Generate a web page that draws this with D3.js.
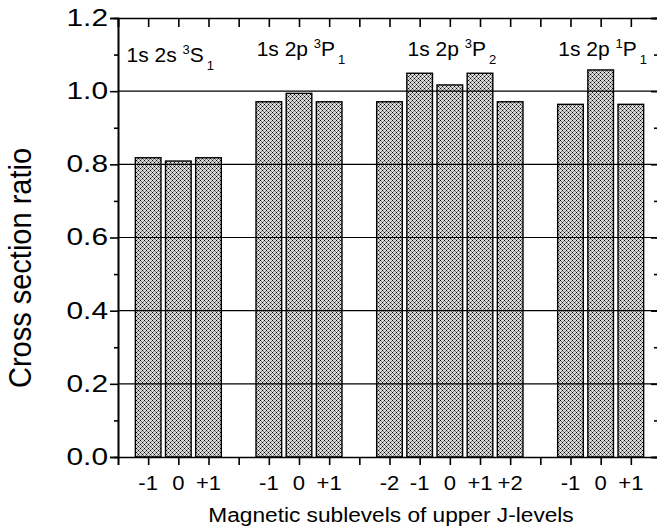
<!DOCTYPE html>
<html>
<head>
<meta charset="utf-8">
<script src="https://cdn.jsdelivr.net/npm/d3@7"></script>
<style>
  body { margin: 0; background: #fff; }
  svg text { font-family: "Liberation Sans", Arial, Helvetica, sans-serif; fill: #000; }
</style>
</head>
<body>
<div id="chart"></div>
<script>
// bar positions on the x axis (integer slots), their values and labels
var positions = [1, 2, 3, 5, 6, 7, 9, 10, 11, 12, 13, 15, 16, 17];
var ratios = [0.818, 0.809, 0.818, 0.971, 0.994, 0.971, 0.971, 1.049, 1.017, 1.049, 0.971, 0.964, 1.058, 0.964];
var tickLabels = ["-1", "0", "+1", "-1", "0", "+1", "-2", "-1", "0", "+1", "+2", "-1", "0", "+1"];

// level names, centred over their group of bars
var levelCenters = [2, 6, 11, 16];
var levelBase = ["1s 2s ", "1s 2p ", "1s 2p ", "1s 2p "];
var levelSup = ["3", "3", "3", "1"];
var levelTerm = ["S", "P", "P", "P"];
var levelSub = ["1", "1", "2", "1"];

var yTicks = [0, 0.2, 0.4, 0.6, 0.8, 1.0, 1.2];
var yMinor = [0.1, 0.3, 0.5, 0.7, 0.9, 1.1];
var gridValues = [0.2, 0.4, 0.6, 0.8, 1.0];

var W = 657, H = 529;
var margin = {top: 18, right: -4, bottom: 72, left: 118};
var width = W - margin.left - margin.right;
var height = H - margin.top - margin.bottom;

// y tick numbers in the scan are wider than normal lettering
var sxTick = 1.3;

var svg = d3.select('#chart').append('svg')
    .attr('width', W)
    .attr('height', H);

// crosshatch fill for the bars
var defs = svg.append('defs');
var pat = defs.append('pattern')
    .attr('id', 'hatch')
    .attr('patternUnits', 'userSpaceOnUse')
    .attr('width', 4)
    .attr('height', 4);
pat.append('rect').attr('width', 4).attr('height', 4).attr('fill', '#dadada');
pat.append('rect').attr('x', 0).attr('y', 0).attr('width', 1).attr('height', 1).attr('fill', '#000');
pat.append('rect').attr('x', 2).attr('y', 2).attr('width', 1).attr('height', 1).attr('fill', '#000');
[[1, 1], [3, 3], [1, 3], [3, 1]].forEach(function(p) {
    pat.append('rect').attr('x', p[0]).attr('y', p[1]).attr('width', 1).attr('height', 1).attr('fill', '#7a7a7a');
});

var g = svg.append('g')
    .attr('transform', `translate(${margin.left}, ${margin.top})`);

var xScale = d3.scaleLinear().domain([0, 18]).range([0, width]);
var yScale = d3.scaleLinear().domain([0, 1.2]).range([height, 0]);
var barW = xScale(0.85) - xScale(0);

// bars
g.selectAll('.bar')
    .data(positions)
    .enter()
    .append('rect')
    .attr('class', 'bar')
    .attr('x', (d, i) => xScale(d) - barW / 2)
    .attr('y', (d, i) => yScale(ratios[i]))
    .attr('width', barW)
    .attr('height', (d, i) => height - yScale(ratios[i]))
    .attr('fill', 'url(#hatch)')
    .attr('stroke', '#000')
    .attr('stroke-width', 1.4);

// horizontal grid lines drawn over the bars
g.selectAll('.grid')
    .data(gridValues)
    .enter()
    .append('line')
    .attr('x1', 0).attr('x2', width)
    .attr('y1', d => yScale(d)).attr('y2', d => yScale(d))
    .attr('stroke', '#000')
    .attr('stroke-width', 1.2);

// axes
var intTicks = d3.range(0, 19);
var xBottom = d3.axisBottom(xScale).tickValues(intTicks).tickSize(8).tickFormat('');
var xTop = d3.axisTop(xScale).tickValues(intTicks).tickSize(-9).tickFormat('');
var yLeft = d3.axisLeft(yScale).tickValues(yTicks).tickSize(8).tickFormat(d3.format('.1f'));
var yLeftMinor = d3.axisLeft(yScale).tickValues(yMinor).tickSize(4).tickFormat('');
var yRight = d3.axisRight(yScale).tickValues(yTicks).tickSize(-10).tickFormat('');
var yRightMinor = d3.axisRight(yScale).tickValues(yMinor).tickSize(-7).tickFormat('');

function styleAxis(sel) {
    sel.selectAll('path').attr('stroke', '#000').attr('stroke-width', 1.6);
    sel.selectAll('line').attr('stroke', '#000').attr('stroke-width', 1.6);
}

g.append('g').attr('transform', `translate(0,${height})`).call(xBottom).call(styleAxis);
g.append('g').call(xTop).call(styleAxis);
g.append('g').call(yLeftMinor).call(styleAxis);
g.append('g').attr('class', 'y axis').call(yLeft).call(styleAxis)
    .selectAll('text')
    .attr('font-size', 23)
    .attr('font-family', '"Liberation Sans", Arial, sans-serif')
    .attr('fill', '#000')
    .attr('x', -10 / sxTick)
    .attr('transform', `scale(${sxTick},1)`);
g.append('g').attr('transform', `translate(${width},0)`).call(yRight).call(styleAxis);
g.append('g').attr('transform', `translate(${width},0)`).call(yRightMinor).call(styleAxis);

// sublevel labels under the bars
g.selectAll('.mlabel')
    .data(positions)
    .enter()
    .append('text')
    .attr('class', 'mlabel')
    .attr('transform', d => `translate(${xScale(d)},${height + 33}) scale(1.05,1)`)
    .attr('text-anchor', 'middle')
    .attr('font-size', 21)
    .text((d, i) => tickLabels[i]);

// level names with super/subscripts
var lev = g.selectAll('.level')
    .data(levelCenters)
    .enter()
    .append('text')
    .attr('class', 'level')
    .attr('x', (d, i) => xScale(d) + (i === 0 ? -8 : 2))
    .attr('y', (d, i) => i === 0 ? 44 : 38)
    .attr('text-anchor', 'middle')
    .attr('font-size', 21);
lev.append('tspan').text((d, i) => levelBase[i]);
lev.append('tspan').attr('font-size', 13).attr('dy', -8).text((d, i) => levelSup[i]);
lev.append('tspan').attr('dy', 8).text((d, i) => levelTerm[i]);
lev.append('tspan').attr('font-size', 13).attr('dy', 8).attr('dx', 3).text((d, i) => levelSub[i]);

// axis titles
svg.append('text')
    .attr('transform', `translate(${margin.left + xScale(9.05)},522) scale(1.08,1)`)
    .attr('text-anchor', 'middle')
    .attr('font-size', 21)
    .text('Magnetic sublevels of upper J-levels');

svg.append('text')
    .attr('transform', `translate(31, 268) rotate(-90) scale(1,1.08)`)
    .attr('text-anchor', 'middle')
    .attr('font-size', 29)
    .text('Cross section ratio');
</script>
</body>
</html>
